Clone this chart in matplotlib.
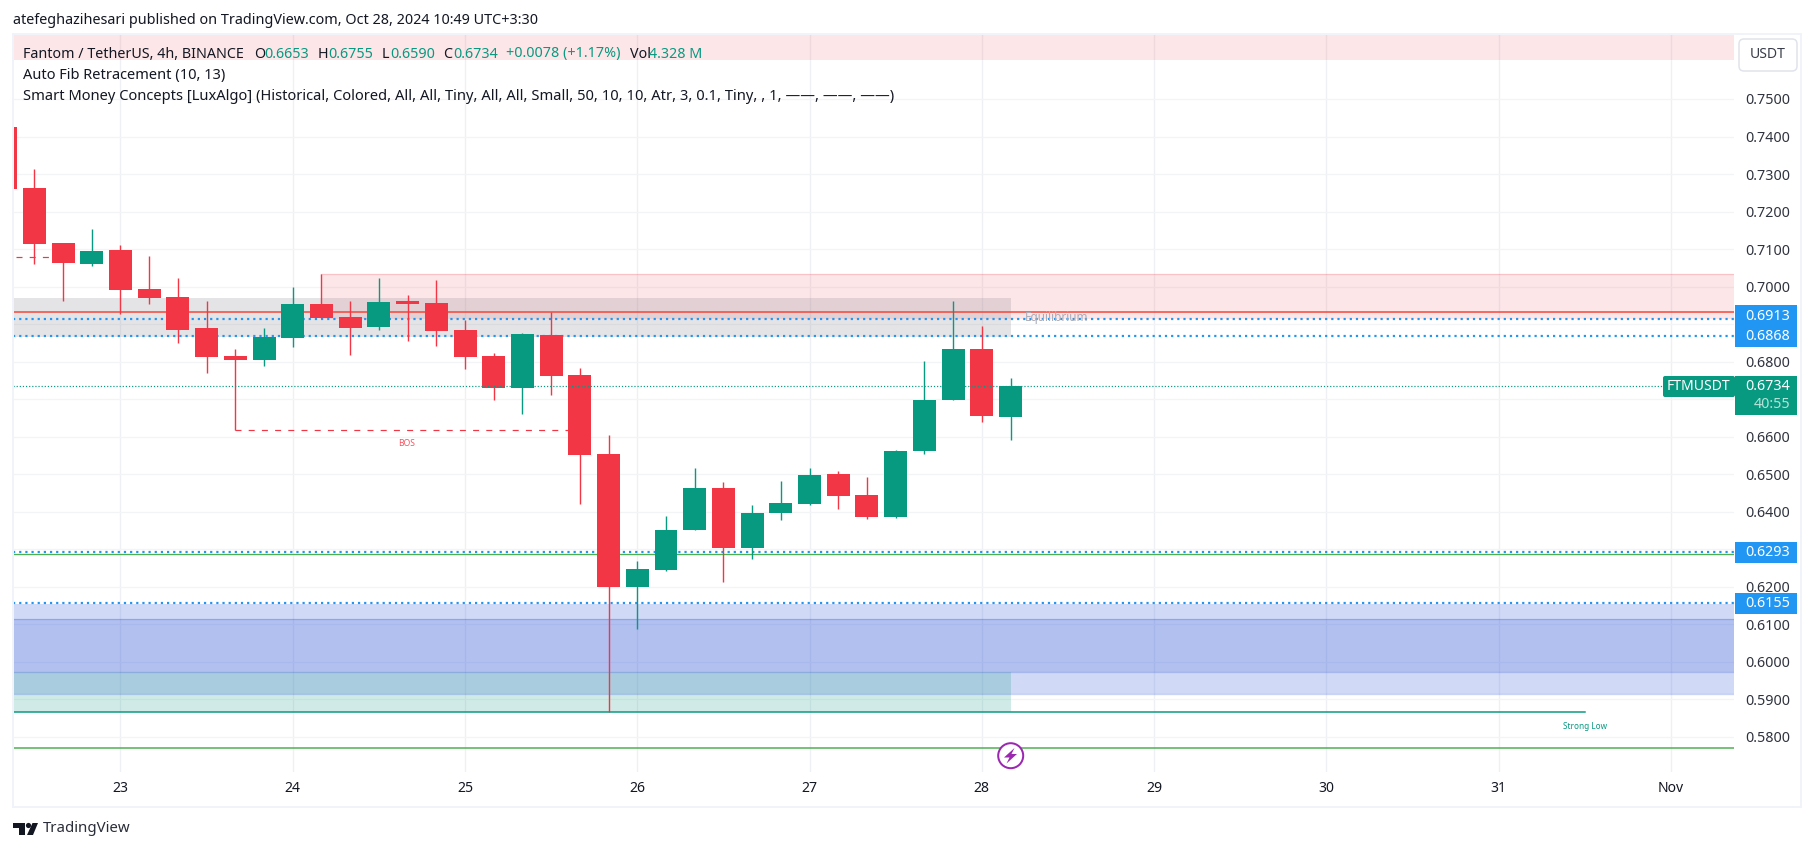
import matplotlib as mpl
mpl.use('Agg')
import matplotlib.pyplot as plt
from matplotlib.patches import Rectangle, FancyBboxPatch, Circle, Polygon
import numpy as np

W, H = 1814, 851
DPI = 100
PT = 72 / DPI  # one pixel in points

# 4h candles, first one is cut by the left edge of the pane
opens = [0.7425, 0.7263, 0.7116, 0.7060, 0.7097, 0.6993, 0.6972, 0.6889, 0.6815, 0.6804, 0.6863, 0.6954,
         0.6919, 0.6892, 0.6962, 0.6956, 0.6884, 0.6815, 0.6729, 0.6871, 0.6764, 0.6554, 0.6199, 0.6244,
         0.6351, 0.6462, 0.6303, 0.6396, 0.6420, 0.6500, 0.6444, 0.6386, 0.6562, 0.6698, 0.6834, 0.6653]
highs = [0.7425, 0.7313, 0.7116, 0.7153, 0.7111, 0.7081, 0.7023, 0.6962, 0.6833, 0.6889, 0.7000, 0.7033,
         0.6962, 0.7023, 0.6977, 0.7017, 0.6911, 0.6823, 0.6876, 0.6931, 0.6783, 0.6604, 0.6268, 0.6388,
         0.6516, 0.6479, 0.6418, 0.6482, 0.6516, 0.6508, 0.6492, 0.6564, 0.6802, 0.6961, 0.6895, 0.6755]
lows = [0.7260, 0.7060, 0.6962, 0.7055, 0.6927, 0.6953, 0.6850, 0.6770, 0.6618, 0.6788, 0.6839, 0.6916,
        0.6817, 0.6884, 0.6855, 0.6841, 0.6780, 0.6697, 0.6660, 0.6711, 0.6420, 0.5865, 0.6087, 0.6242,
        0.6351, 0.6212, 0.6274, 0.6378, 0.6418, 0.6407, 0.6380, 0.6383, 0.6554, 0.6698, 0.6639, 0.6590]
closes = [0.7260, 0.7113, 0.7063, 0.7095, 0.6991, 0.6969, 0.6884, 0.6812, 0.6804, 0.6865, 0.6954, 0.6916,
          0.6889, 0.6959, 0.6954, 0.6882, 0.6812, 0.6729, 0.6874, 0.6762, 0.6551, 0.6199, 0.6247, 0.6351,
          0.6462, 0.6303, 0.6396, 0.6423, 0.6498, 0.6442, 0.6386, 0.6562, 0.6698, 0.6834, 0.6655, 0.6734]
first_index = -4

day_labels = ['23', '24', '25', '26', '27', '28', '29', '30', '31', 'Nov']
day_ticks = [0, 6, 12, 18, 24, 30, 36, 42, 48, 54]
grid_prices = [0.75, 0.74, 0.73, 0.72, 0.71, 0.70, 0.69, 0.68, 0.67, 0.66, 0.65, 0.64, 0.63, 0.62, 0.61, 0.60, 0.59, 0.58]
hidden_prices = [0.69, 0.67, 0.63]

legend_line = [('Fantom / TetherUS, 4h, BINANCE', 23, 'k'), ('O', 254, 'k'), ('0.6653', 264, 'g'),
               ('H', 318, 'k'), ('0.6755', 328, 'g'), ('L', 382, 'k'), ('0.6590', 390, 'g'),
               ('C', 443, 'k'), ('0.6734', 453, 'g'), ('+0.0078 (+1.17%)', 506, 'g'),
               ('Vol', 630, 'k'), ('4.328 M', 649, 'g')]

RED = '#F23645'
GREEN = '#089981'
BLUE = '#2196F3'
TEXT = '#131722'

plt.rcParams['font.family'] = ['Noto Sans', 'DejaVu Sans']

fig = plt.figure(figsize=(W / DPI, H / DPI), dpi=DPI, facecolor='white')


def price_y(y):
    return 0.75 - (y - 99) / 3751


def bar_x(x):
    return (x - 120.5) / 28.71


# chart pane, from pixel box 13..1734 / 34..772
ax = fig.add_axes([13 / W, 1 - 772 / H, (1734 - 13) / W, (772 - 34) / H])
ax.set_xlim(bar_x(13), bar_x(1734))
ax.set_ylim(price_y(772), price_y(34))
ax.set_facecolor('white')
for s in ax.spines.values():
    s.set_visible(False)
ax.set_axisbelow(True)
ax.yaxis.tick_right()
ax.set_yticks(grid_prices)
ax.set_yticklabels(['' if p in hidden_prices else '%.4f' % p for p in grid_prices])
ax.set_xticks(day_ticks)
ax.set_xticklabels(day_labels)
ax.tick_params(axis='y', length=0, pad=11 * PT, labelsize=14.3 * PT, labelcolor='#2f333e')
ax.tick_params(axis='x', length=0, pad=9 * PT, labelsize=14 * PT, labelcolor=TEXT)
ax.get_xticklabels()[-1].set_fontweight('bold')
ax.grid(axis='y', color='#F3F4F6', lw=1.3 * PT)
ax.grid(axis='x', color='#EFF0F3', lw=1.3 * PT)

# zones
x0, x1 = ax.get_xlim()
red_a = dict(color=RED, alpha=0.12, lw=0)
ax.axhspan(0.7606, price_y(34), **red_a)
ax.axhline(0.7606, color=RED, alpha=0.12, lw=PT)
ax.add_patch(Rectangle((7, 0.6913), x1 - 7, 0.70326 - 0.6913, **red_a))
ax.plot([7, x1], [0.70326, 0.70326], color=RED, alpha=0.2, lw=1.3 * PT)
ax.add_patch(Rectangle((x0, 0.6865), 31 - x0, 0.6969 - 0.6865, color='#787B86', alpha=0.2, lw=0))

blue = (0.17, 0.32, 0.85)
ax.axhspan(0.5913, 0.6155, color=blue, alpha=0.22, lw=0)
ax.axhspan(0.5972, 0.6113, color=blue, alpha=0.18, lw=0)
for p in (0.5913, 0.5972, 0.6113):
    ax.axhline(p, color=blue, alpha=0.25, lw=1.3 * PT)
ax.add_patch(Rectangle((x0, 0.5865), 31 - x0, 0.5972 - 0.5865, color=GREEN, alpha=0.19, lw=0))

# levels
ax.axhline(0.6931, color='#F44336', lw=1.5 * PT, zorder=2)
ax.axhline(0.6288, color='#4CAF50', lw=1.3 * PT, zorder=2)
ax.axhline(0.5769, color='#4CAF50', lw=1.5 * PT, zorder=2)
for p in (0.6913, 0.6868, 0.6292, 0.6156):
    ax.axhline(p, color=BLUE, lw=2.2 * PT, ls=(0, (1, 1.8)), dash_capstyle='butt', zorder=2.2)
ax.plot([x0, 51], [0.5865, 0.5865], color=GREEN, lw=1.5 * PT, zorder=2)
ax.plot([4, 15.6], [0.6617, 0.6617], color=RED, lw=1.2 * PT, ls=(0, (5, 6)), zorder=2)
ax.plot([x0 + 0.1, -2], [0.7078, 0.7078], color=RED, lw=1.2 * PT, ls=(0, (5, 6)), zorder=2)

# candles
xs = np.arange(len(opens)) + first_index
o = np.array(opens)
c = np.array(closes)
colors = [GREEN if b >= a else RED for a, b in zip(o, c)]
ax.vlines(xs, lows, highs, colors=colors, lw=1.4 * PT, zorder=3)
ax.bar(xs, np.abs(c - o), bottom=np.minimum(o, c), width=0.8, color=colors, lw=0, zorder=3.1)
ax.axhline(0.6734, color=GREEN, lw=1.2 * PT, ls=(0, (1, 1.6)), dash_capstyle='butt', zorder=3.2)

ax.text(9.98, price_y(444), 'BOS', color=RED, fontsize=8.5 * PT, ha='center', va='center', alpha=0.85)
ax.text(51, price_y(726.7), 'Strong Low', color=GREEN, fontsize=8.2 * PT, ha='center', va='center')
ax.text(32.6, price_y(317), 'Equilibrium', color='#A9ADB8', fontsize=11.8 * PT, ha='center', va='center')

# page furniture drawn in pixel coordinates
top = fig.add_axes([0, 0, 1, 1], facecolor='none')
top.set_xlim(0, W)
top.set_ylim(H, 0)
top.axis('off')
top.add_patch(Rectangle((13, 33.5), 1788, 773, fill=False, ec='#F0F3FA', lw=2 * PT))

top.text(13, 20, 'atefeghazihesari published on TradingView.com, Oct 28, 2024 10:49 UTC+3:30',
         fontsize=14.4 * PT, color=TEXT, va='center')
for txt, x, col in legend_line:
    top.text(x, 54, txt, fontsize=14.3 * PT, color=GREEN if col == 'g' else TEXT, va='center')
top.text(23, 75, 'Auto Fib Retracement (10, 13)', fontsize=14.6 * PT, color=TEXT, va='center')
top.text(23, 97, 'Smart Money Concepts [LuxAlgo] (Historical, Colored, All, All, Tiny, All, All, Small, '
         '50, 10, 10, Atr, 3, 0.1, Tiny, , 1, \u2014\u2014, \u2014\u2014, \u2014\u2014)',
         fontsize=14.7 * PT, color=TEXT, va='center')

top.add_patch(FancyBboxPatch((1741, 41), 54, 28, boxstyle='round,pad=2,rounding_size=5',
                             fc='white', ec='#E0E3EB', lw=1.5 * PT))
top.text(1768, 55, 'USDT', fontsize=14 * PT, color='#3a3e4a', ha='center', va='center')


def tag(x0_, y0_, x1_, y1_, color):
    top.add_patch(Rectangle((x0_, y0_), x1_ - x0_, y1_ - y0_, fc=color, lw=0))


tag(1735, 305, 1797, 347, BLUE)
top.text(1790, 316, '0.6913', fontsize=14.3 * PT, color='white', ha='right', va='center')
top.text(1790, 336.5, '0.6868', fontsize=14.3 * PT, color='white', ha='right', va='center')
tag(1735, 376, 1797, 415, GREEN)
top.text(1790, 387, '0.6734', fontsize=14.3 * PT, color='white', ha='right', va='center')
top.text(1790, 405, '40:55', fontsize=14.3 * PT, color='#B5E3D8', ha='right', va='center')
top.add_patch(FancyBboxPatch((1664, 377), 70, 19, boxstyle='round,pad=1,rounding_size=2', fc=GREEN, lw=0))
top.text(1698, 386.5, 'FTMUSDT', fontsize=14 * PT, color='white', ha='center', va='center')
tag(1735, 542, 1797, 563, BLUE)
top.text(1790, 552.5, '0.6293', fontsize=14.3 * PT, color='white', ha='right', va='center')
tag(1735, 593, 1797, 614, BLUE)
top.text(1790, 603.5, '0.6155', fontsize=14.3 * PT, color='white', ha='right', va='center')

# lightning marker on the green line
top.add_patch(Circle((1010.7, 755.7), 12.5, fc='white', ec='#9C27B0', lw=2 * PT, zorder=5))
top.add_patch(Polygon([(1014.5, 748), (1004, 757.5), (1009.5, 757.5), (1006.5, 763.5), (1017, 754), (1011.5, 754)],
                      fc='#9C27B0', lw=0, zorder=6))

# footer logo
top.add_patch(Polygon([(13, 823), (25, 823), (25, 835), (19, 835), (19, 828), (13, 828)], fc=TEXT, lw=0))
top.add_patch(Circle((28.5, 825.5), 2.6, fc=TEXT, lw=0))
top.add_patch(Polygon([(32.5, 823), (38, 823), (33, 835), (27, 835)], fc=TEXT, lw=0))
top.text(43, 829, 'TradingView', fontsize=15 * PT, color='#2a2e39', va='center')

fig.savefig('out.png', dpi=DPI)
